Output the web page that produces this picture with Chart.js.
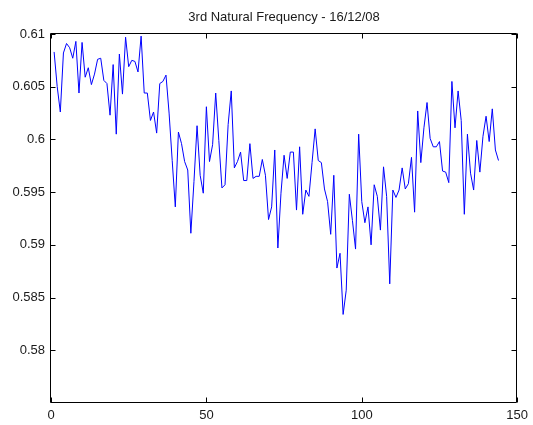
<!DOCTYPE html>
<html>
<head>
<meta charset="utf-8">
<script src="https://cdn.jsdelivr.net/npm/chart.js@4.4.1/dist/chart.umd.min.js"></script>
<style>
  html, body { margin: 0; padding: 0; background: #fff; }
  #freqChart { display: block; }
</style>
</head>
<body>
<canvas id="freqChart" width="533" height="425"></canvas>
<script>
// 3rd natural frequency, one reading per sample
var freq = [
	0.6083, 0.6050, 0.6026, 0.6082, 0.6091, 0.6087, 0.6077, 0.6093, 0.6044, 0.6092,
	0.6059, 0.6068, 0.6052, 0.6062, 0.6076, 0.6077, 0.6056, 0.6053, 0.6023, 0.6071,
	0.6005, 0.6081, 0.6043, 0.6097, 0.6069, 0.6075, 0.6074, 0.6064, 0.6098, 0.6044,
	0.6044, 0.6018, 0.6026, 0.6006, 0.6053, 0.6055, 0.6061, 0.6025, 0.5980, 0.5936,
	0.6007, 0.5996, 0.5979, 0.5971, 0.5911, 0.5960, 0.6013, 0.5966, 0.5949, 0.6031,
	0.5979, 0.5995, 0.6044, 0.5999, 0.5954, 0.5957, 0.6014, 0.6046, 0.5973, 0.5979,
	0.5988, 0.5961, 0.5961, 0.5996, 0.5963, 0.5965, 0.5965, 0.5981, 0.5966, 0.5924,
	0.5936, 0.5990, 0.5897, 0.5949, 0.5985, 0.5963, 0.5988, 0.5988, 0.5933, 0.5993,
	0.5929, 0.5952, 0.5946, 0.5978, 0.6010, 0.5980, 0.5978, 0.5953, 0.5941, 0.5910,
	0.5966, 0.5878, 0.5892, 0.5834, 0.5857, 0.5948, 0.5923, 0.5896, 0.6005, 0.5941,
	0.5921, 0.5936, 0.5900, 0.5957, 0.5946, 0.5914, 0.5974, 0.5946, 0.5863, 0.5952,
	0.5945, 0.5952, 0.5973, 0.5953, 0.5958, 0.5983, 0.5931, 0.6027, 0.5978, 0.6011,
	0.6035, 0.6001, 0.5993, 0.5993, 0.5998, 0.5970, 0.5969, 0.5959, 0.6055, 0.6011,
	0.6046, 0.6018, 0.5929, 0.6005, 0.5968, 0.5952, 0.5999, 0.5969, 0.6003, 0.6022,
	0.5998, 0.6029, 0.5990, 0.5980
];

// sample numbers 1..n
var sample = [];
for (var i = 0; i < freq.length; i++) {
	sample.push(i + 1);
}

var xTicks = [0, 50, 100, 150];
var yTicks = [0.58, 0.585, 0.59, 0.595, 0.6, 0.605, 0.61];

var FONT = '"Liberation Sans", Arial, Helvetica, sans-serif';
var TEXT = '#1a1a1a';

// box round the axes with short inward tick marks, matlab style
var boxTicks = {
	id: 'boxTicks',
	afterDraw: function(chart) {
		var ctx = chart.ctx;
		var a = chart.chartArea;
		var L = Math.round(a.left) - 0.5, R = Math.round(a.right) - 0.5;
		var T = Math.round(a.top) - 0.5, B = Math.round(a.bottom) - 0.5;
		var len = 5;
		ctx.save();
		ctx.strokeStyle = '#000';
		ctx.lineWidth = 1;
		ctx.beginPath();
		ctx.rect(L, T, R - L, B - T);

		var xs = chart.scales.x;
		xTicks.forEach(function(v) {
			var px = Math.round(xs.getPixelForValue(v)) + 0.5;
			ctx.moveTo(px, B); ctx.lineTo(px, B - len);
			ctx.moveTo(px, T); ctx.lineTo(px, T + len);
		});
		var ys = chart.scales.y;
		yTicks.forEach(function(v) {
			var py = Math.round(ys.getPixelForValue(v)) + 0.5;
			ctx.moveTo(L, py); ctx.lineTo(L + len, py);
			ctx.moveTo(R, py); ctx.lineTo(R - len, py);
		});
		ctx.stroke();
		ctx.restore();
	}
};

var ctx = document.getElementById('freqChart');

var chart = new Chart(ctx, {
	type: 'line',
	data: {
		labels: sample,
		datasets: [{
			data: freq,
			borderColor: '#0000ff',
			borderWidth: 1,
			pointRadius: 0,
			tension: 0,
			fill: false
		}]
	},
	options: {
		responsive: false,
		animation: false,
		devicePixelRatio: 1,
		layout: { padding: { left: 0, right: 14, top: 0, bottom: 0 } },
		plugins: {
			legend: { display: false },
			tooltip: { enabled: false },
			title: {
				display: true,
				fullSize: false, // centre over the axes, not the canvas
				text: '3rd Natural Frequency - 16/12/08',
				color: TEXT,
				font: { family: FONT, size: 13, weight: 'normal', lineHeight: 1.2 },
				padding: { top: 10, bottom: 8.4 }
			}
		},
		scales: {
			x: {
				type: 'linear',
				min: 0,
				max: 150,
				grid: { display: false, drawTicks: false },
				border: { display: false },
				afterBuildTicks: function(scale) {
					scale.ticks = xTicks.map(function(v) { return { value: v }; });
				},
				afterFit: function(scale) { scale.height = 22; },
				ticks: {
					color: TEXT,
					padding: 5,
					maxRotation: 0,
					font: { family: FONT, size: 13 },
					callback: function(v) { return String(v); }
				}
			},
			y: {
				min: 0.575,
				max: 0.61,
				grid: { display: false, drawTicks: false },
				border: { display: false },
				afterBuildTicks: function(scale) {
					scale.ticks = yTicks.map(function(v) { return { value: v }; });
				},
				afterFit: function(scale) { scale.width = 51; },
				ticks: {
					color: TEXT,
					padding: 6,
					font: { family: FONT, size: 13 },
					callback: function(v) { return String(Number(v.toFixed(3))); }
				}
			}
		}
	},
	plugins: [boxTicks]
});
</script>
</body>
</html>
